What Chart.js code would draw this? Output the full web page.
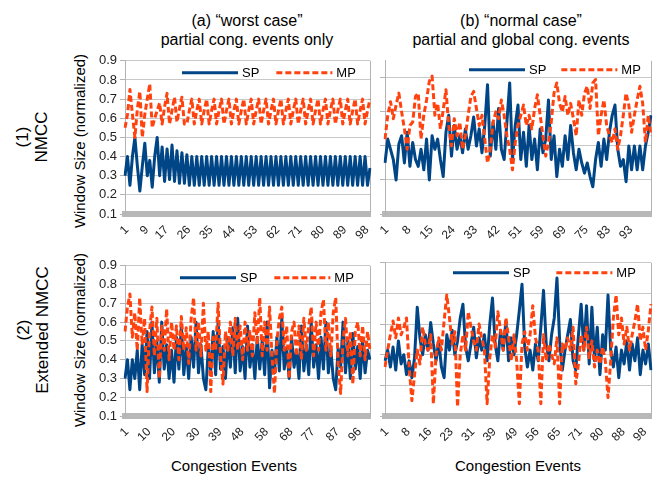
<!DOCTYPE html>
<html>
<head>
<meta charset="utf-8">
<script src="https://cdn.jsdelivr.net/npm/chart.js@4.4.1/dist/chart.umd.min.js"></script>
<style>
body { margin:0; width:665px; height:478px; background:#fff; position:relative; overflow:hidden;
       font-family:'Liberation Sans', Arial, sans-serif; color:#000; }
.box { position:absolute; }
.t { position:absolute; text-align:center; white-space:nowrap; }
.rot { transform:translate(-50%,-50%) rotate(-90deg); }
</style>
</head>
<body>
<div class="t" style="left:97px;top:11px;width:300px;font-size:16px;line-height:19px">(a) “worst case”<br>partial cong. events only</div>
<div class="t" style="left:371px;top:11px;width:300px;font-size:16px;line-height:19px">(b) “normal case”<br>partial and global cong. events</div>

<div class="t rot" style="left:32px;top:137px;font-size:17px;line-height:19px">(1)<br>NMCC</div>
<div class="t rot" style="left:33px;top:330px;font-size:17px;line-height:19px">(2)<br>Extended NMCC</div>
<div class="t rot" style="left:79px;top:141px;font-size:15px">Window Size (normalized)</div>
<div class="t rot" style="left:79px;top:340px;font-size:15px">Window Size (normalized)</div>

<div class="t" style="left:134px;top:457px;width:200px;font-size:15px">Congestion Events</div>
<div class="t" style="left:418px;top:457px;width:200px;font-size:15px">Congestion Events</div>

<div class="box" style="left:90px;top:50px;width:285px;height:200px"><canvas id="tl"></canvas></div>
<div class="box" style="left:350px;top:50px;width:306px;height:200px"><canvas id="tr"></canvas></div>
<div class="box" style="left:90px;top:255px;width:285px;height:200px"><canvas id="bl"></canvas></div>
<div class="box" style="left:350px;top:252px;width:306px;height:200px"><canvas id="br"></canvas></div>

<script>
// (a)(1) worst case, NMCC
const tlSP = [0.30,0.40,0.25,0.40,0.50,0.35,0.22,0.35,0.47,0.30,
              0.38,0.24,0.40,0.50,0.30,0.45,0.27,0.44,0.28,0.46,
              0.27,0.43,0.26,0.42,0.26,0.41,0.25,0.40,0.25,0.40,
              0.25,0.40,0.25,0.40,0.25,0.40,0.25,0.40,0.25,0.40,
              0.25,0.40,0.25,0.40,0.25,0.40,0.25,0.40,0.25,0.40,
              0.25,0.40,0.25,0.40,0.25,0.40,0.25,0.40,0.25,0.40,
              0.25,0.40,0.25,0.40,0.25,0.40,0.25,0.40,0.25,0.40,
              0.25,0.40,0.25,0.40,0.25,0.40,0.25,0.40,0.25,0.40,
              0.25,0.40,0.25,0.40,0.25,0.40,0.25,0.40,0.25,0.40,
              0.25,0.40,0.25,0.40,0.25,0.40,0.25,0.40,0.25,0.34];
const tlMP = [0.55,0.62,0.75,0.62,0.50,0.65,0.74,0.50,0.62,0.70,
              0.78,0.55,0.60,0.64,0.68,0.57,0.66,0.73,0.57,0.64,
              0.71,0.58,0.65,0.71,0.57,0.57,0.64,0.70,0.57,0.64,
              0.70,0.57,0.64,0.70,0.57,0.64,0.70,0.57,0.64,0.70,
              0.57,0.64,0.70,0.57,0.64,0.70,0.57,0.64,0.70,0.57,
              0.64,0.70,0.57,0.64,0.70,0.57,0.64,0.70,0.57,0.64,
              0.70,0.57,0.64,0.70,0.57,0.64,0.70,0.57,0.64,0.70,
              0.57,0.64,0.70,0.57,0.64,0.70,0.57,0.64,0.70,0.57,
              0.64,0.70,0.57,0.64,0.70,0.57,0.64,0.70,0.57,0.64,
              0.70,0.57,0.64,0.70,0.57,0.64,0.70,0.57,0.64,0.70];
const tlTicks = [1,9,17,26,35,44,53,62,71,80,89,98];

// (b)(1) normal case, NMCC
const trSP = [0.30,0.44,0.38,0.32,0.20,0.41,0.46,0.30,0.48,0.28,
              0.42,0.32,0.28,0.38,0.26,0.44,0.20,0.46,0.38,0.44,
              0.32,0.22,0.48,0.58,0.34,0.52,0.38,0.46,0.36,0.50,
              0.38,0.46,0.57,0.40,0.50,0.36,0.52,0.76,0.34,0.54,
              0.38,0.62,0.38,0.32,0.54,0.77,0.32,0.52,0.64,0.32,
              0.48,0.28,0.52,0.32,0.44,0.26,0.50,0.36,0.44,0.67,
              0.32,0.46,0.22,0.38,0.28,0.46,0.32,0.52,0.36,0.26,
              0.38,0.30,0.24,0.30,0.22,0.16,0.32,0.42,0.28,0.44,
              0.32,0.48,0.58,0.64,0.38,0.28,0.32,0.19,0.40,0.26,
              0.40,0.26,0.40,0.26,0.40,0.48,0.58];
const trMP = [0.44,0.58,0.66,0.56,0.64,0.71,0.60,0.50,0.38,0.52,
              0.54,0.69,0.71,0.44,0.58,0.67,0.78,0.81,0.58,0.65,
              0.50,0.61,0.73,0.52,0.40,0.56,0.46,0.54,0.38,0.46,
              0.58,0.69,0.72,0.62,0.52,0.58,0.44,0.30,0.38,0.54,
              0.60,0.56,0.67,0.58,0.46,0.38,0.26,0.42,0.52,0.58,
              0.64,0.52,0.58,0.50,0.62,0.70,0.58,0.46,0.34,0.42,
              0.54,0.71,0.77,0.65,0.60,0.69,0.58,0.65,0.56,0.46,
              0.67,0.58,0.71,0.75,0.62,0.77,0.79,0.46,0.58,0.67,
              0.52,0.46,0.42,0.50,0.38,0.46,0.58,0.71,0.64,0.48,
              0.58,0.67,0.75,0.65,0.42,0.58,0.46];
const trTicks = ['1','8','15','24','33','42','51','59','69','75','83','93'];

// (a)(2) worst case, Extended NMCC
const blSP = [0.30,0.40,0.24,0.40,0.30,0.45,0.24,0.48,0.32,0.55,
              0.30,0.60,0.33,0.50,0.28,0.60,0.35,0.48,0.30,0.45,
              0.28,0.52,0.35,0.58,0.32,0.47,0.30,0.52,0.36,0.60,
              0.33,0.48,0.30,0.24,0.46,0.34,0.55,0.32,0.60,0.35,
              0.47,0.30,0.52,0.36,0.57,0.33,0.62,0.34,0.47,0.30,
              0.58,0.36,0.48,0.30,0.52,0.35,0.50,0.32,0.60,0.25,
              0.45,0.33,0.52,0.34,0.62,0.35,0.46,0.30,0.52,0.36,
              0.45,0.30,0.58,0.34,0.48,0.32,0.60,0.36,0.48,0.30,
              0.52,0.35,0.60,0.33,0.46,0.30,0.24,0.46,0.36,0.60,
              0.33,0.50,0.30,0.54,0.35,0.47,0.30,0.50,0.33,0.45,
              0.40];
const blMP = [0.55,0.68,0.75,0.52,0.65,0.45,0.73,0.48,0.62,0.23,
              0.55,0.68,0.42,0.62,0.30,0.58,0.45,0.67,0.40,0.60,
              0.45,0.58,0.40,0.63,0.45,0.57,0.38,0.62,0.73,0.45,
              0.60,0.42,0.70,0.45,0.55,0.23,0.52,0.45,0.70,0.42,
              0.27,0.55,0.45,0.60,0.42,0.62,0.45,0.58,0.40,0.60,
              0.45,0.55,0.42,0.65,0.48,0.73,0.42,0.60,0.45,0.68,
              0.42,0.22,0.50,0.62,0.68,0.45,0.58,0.30,0.55,0.60,
              0.42,0.58,0.40,0.62,0.45,0.58,0.68,0.42,0.60,0.45,
              0.65,0.72,0.45,0.60,0.42,0.65,0.73,0.38,0.22,0.50,
              0.62,0.42,0.55,0.27,0.55,0.60,0.42,0.58,0.40,0.55,
              0.45];
const blTicks = [1,10,20,30,39,48,58,68,77,87,96];

// (b)(2) normal case, Extended NMCC
const brSP = [0.36,0.43,0.32,0.45,0.30,0.49,0.34,0.40,0.27,0.36,
              0.25,0.38,0.71,0.51,0.40,0.53,0.43,0.61,0.47,0.36,
              0.49,0.32,0.25,0.53,0.43,0.56,0.40,0.49,0.64,0.73,
              0.45,0.36,0.47,0.58,0.38,0.51,0.43,0.53,0.36,0.60,
              0.77,0.47,0.36,0.56,0.43,0.62,0.36,0.51,0.40,0.53,
              0.69,0.86,0.45,0.32,0.43,0.30,0.47,0.36,0.58,0.82,
              0.47,0.36,0.53,0.64,0.90,0.49,0.30,0.43,0.53,0.63,
              0.36,0.30,0.53,0.73,0.43,0.72,0.34,0.71,0.36,0.58,
              0.27,0.53,0.43,0.79,0.43,0.32,0.45,0.25,0.43,0.34,
              0.49,0.30,0.47,0.36,0.51,0.27,0.43,0.34,0.47,0.30];
const brMP = [0.32,0.43,0.53,0.62,0.51,0.64,0.53,0.58,0.64,0.32,
              0.10,0.27,0.43,0.34,0.58,0.47,0.43,0.53,0.08,0.40,
              0.51,0.43,0.62,0.79,0.64,0.47,0.55,0.06,0.40,0.53,
              0.43,0.68,0.58,0.49,0.43,0.60,0.51,0.43,0.08,0.38,
              0.53,0.45,0.68,0.56,0.43,0.64,0.51,0.36,0.53,0.36,
              0.08,0.47,0.55,0.43,0.53,0.72,0.51,0.43,0.08,0.53,
              0.36,0.47,0.40,0.34,0.51,0.08,0.47,0.43,0.51,0.43,
              0.58,0.21,0.34,0.53,0.43,0.58,0.38,0.49,0.32,0.43,
              0.34,0.45,0.36,0.12,0.36,0.64,0.79,0.53,0.64,0.47,
              0.58,0.43,0.53,0.62,0.73,0.49,0.58,0.43,0.56,0.73];
const brTicks = ['1','8','16','23','31','39','49','56','65','71','80','88','98'];

const BLUE = '#004586';
const ORANGE = '#ff420e';
const FONT = "'Liberation Sans', Arial, sans-serif";

// legend drawn inside the plot area, like the original
const inLegend = {
    id: 'inLegend',
    afterDraw(chart, args, opts) {
        const { ctx, chartArea } = chart;
        let x = chartArea.left + opts.x;
        const y = chartArea.top + opts.y;
        ctx.save();
        ctx.font = '13px ' + FONT;
        ctx.textBaseline = 'middle';
        chart.data.datasets.forEach(ds => {
            ctx.strokeStyle = ds.borderColor;
            ctx.lineWidth = ds.borderWidth;
            ctx.setLineDash(ds.borderDash || []);
            ctx.beginPath();
            ctx.moveTo(x, y);
            ctx.lineTo(x + 56, y);
            ctx.stroke();
            ctx.setLineDash([]);
            ctx.fillStyle = '#000';
            ctx.fillText(ds.label, x + 60, y + 1);
            x += 60 + ctx.measureText(ds.label).width + opts.gap;
        });
        ctx.restore();
    }
};

// right edge of the plot frame
const frame = {
    id: 'frame',
    beforeDatasetsDraw(chart) {
        const { ctx, chartArea } = chart;
        ctx.save();
        ctx.strokeStyle = '#b3b3b3';
        ctx.lineWidth = 1;
        ctx.beginPath();
        ctx.moveTo(chartArea.right + 0.5, chartArea.top);
        ctx.lineTo(chartArea.right + 0.5, chartArea.bottom);
        ctx.stroke();
        ctx.restore();
    }
};

function makePanel(id, sp, mp, yMin, yMax, showY, tickText, xHeight, legend) {
    const cats = sp.map((v, i) => i + 1);

    // slanted category labels at the x scale's tick positions
    const slant = {
        id: 'slant',
        afterDraw(chart) {
            const { ctx, chartArea } = chart;
            const xs = chart.scales.x;
            ctx.save();
            ctx.font = '12px ' + FONT;
            ctx.fillStyle = '#222';
            ctx.textAlign = 'right';
            ctx.textBaseline = 'middle';
            xs.ticks.forEach((t, i) => {
                const text = tickText(i);
                if (!text) return;
                ctx.save();
                ctx.translate(xs.getPixelForTick(i) + 2, chartArea.bottom + 14);
                ctx.rotate(-Math.PI / 4);
                ctx.fillText(text, 0, 0);
                ctx.restore();
            });
            ctx.restore();
        }
    };

    new Chart(document.getElementById(id), {
        type: 'line',
        data: {
            labels: cats,
            datasets: [
                { label: 'SP', data: sp, borderColor: BLUE, borderWidth: 3, pointRadius: 0,
                  borderJoinStyle: 'round', order: 1 },
                { label: 'MP', data: mp, borderColor: ORANGE, borderWidth: 3, borderDash: [6, 3],
                  pointRadius: 0, borderJoinStyle: 'round', order: 0 }
            ]
        },
        options: {
            responsive: true,
            maintainAspectRatio: false,
            animation: false,
            devicePixelRatio: 1,
            layout: { padding: { top: 10, right: 5, left: 0, bottom: 0 } },
            plugins: { legend: { display: false }, tooltip: { enabled: false }, inLegend: legend },
            scales: {
                x: {
                    type: 'category',
                    offset: false,
                    grid: { display: false },
                    border: { display: true, color: '#b8b8b8', width: 6 },
                    ticks: { display: false, autoSkip: false },
                    afterFit: s => { s.height = xHeight; }
                },
                y: {
                    min: yMin, max: yMax,
                    grid: { color: '#c8c8c8', tickLength: 5, tickColor: '#b3b3b3' },
                    border: { color: '#b3b3b3' },
                    ticks: {
                        stepSize: 0.1, padding: 3, color: '#222', font: { family: FONT, size: 13 },
                        callback: v => showY ? v.toFixed(1) : ''
                    },
                    afterFit: s => { s.width = 35; }
                }
            }
        },
        plugins: [inLegend, frame, slant]
    });
}

makePanel('tl', tlSP, tlMP, 0.1, 0.9, true,
    i => tlTicks.includes(i + 1) ? String(i + 1) : '', 36, { x: 57, y: 12, gap: 17 });
makePanel('tr', trSP, trMP, 0, 0.9, false,
    i => i % 8 === 0 && trTicks[i / 8] ? trTicks[i / 8] : '', 36, { x: 84, y: 9, gap: 15 });
makePanel('bl', blSP, blMP, 0.1, 0.9, true,
    i => blTicks.includes(i + 1) ? String(i + 1) : '', 39, { x: 55, y: 12, gap: 17 });
makePanel('br', brSP, brMP, 0, 1.0, false,
    i => i % 8 === 0 && brTicks[i / 8] ? brTicks[i / 8] : '', 36, { x: 68, y: 10, gap: 26 });
</script>
</body>
</html>
